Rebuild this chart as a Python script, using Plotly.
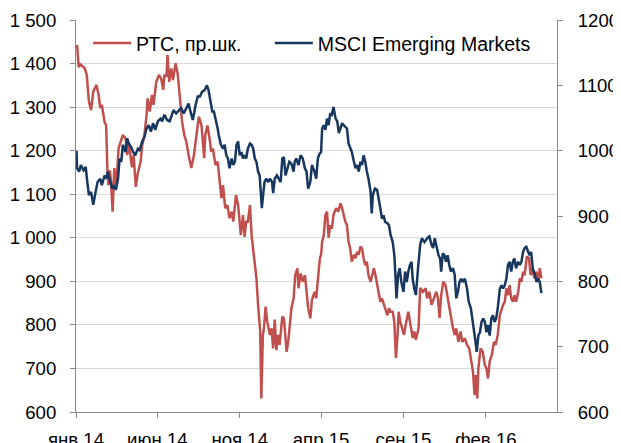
import plotly.graph_objects as go

# ---- RTS index (left axis) ----
rts_dates = [
    "2014-01-03", "2014-01-06", "2014-01-09", "2014-01-17", "2014-01-21", "2014-01-25", "2014-01-29",
    "2014-02-02", "2014-02-08", "2014-02-12", "2014-02-15", "2014-02-18", "2014-02-23", "2014-02-26", "2014-02-28",
    "2014-03-02", "2014-03-05", "2014-03-07", "2014-03-10", "2014-03-13", "2014-03-17", "2014-03-21", "2014-03-26", "2014-03-29",
    "2014-04-03", "2014-04-06", "2014-04-09", "2014-04-12", "2014-04-15", "2014-04-18", "2014-04-22", "2014-04-26",
    "2014-05-01", "2014-05-04", "2014-05-08", "2014-05-12", "2014-05-14", "2014-05-18", "2014-05-22", "2014-05-25", "2014-05-30",
    "2014-06-04", "2014-06-08", "2014-06-12", "2014-06-14", "2014-06-18", "2014-06-20", "2014-06-23", "2014-06-27", "2014-06-30",
    "2014-07-05", "2014-07-09", "2014-07-13", "2014-07-17", "2014-07-21", "2014-07-25", "2014-07-29",
    "2014-08-03", "2014-08-08", "2014-08-13", "2014-08-17", "2014-08-22", "2014-08-27", "2014-08-29",
    "2014-09-02", "2014-09-06", "2014-09-09", "2014-09-12", "2014-09-17", "2014-09-21", "2014-09-25", "2014-09-28",
    "2014-10-01", "2014-10-05", "2014-10-09", "2014-10-13", "2014-10-17", "2014-10-20", "2014-10-25", "2014-10-29",
    "2014-11-03", "2014-11-07", "2014-11-10", "2014-11-13", "2014-11-16", "2014-11-20", "2014-11-23", "2014-11-26", "2014-11-29",
    "2014-12-02", "2014-12-05", "2014-12-07", "2014-12-09", "2014-12-11", "2014-12-14", "2014-12-16", "2014-12-19", "2014-12-22", "2014-12-27", "2014-12-30",
    "2015-01-02", "2015-01-05", "2015-01-08", "2015-01-11", "2015-01-14", "2015-01-19", "2015-01-22", "2015-01-27", "2015-01-30",
    "2015-02-02", "2015-02-05", "2015-02-09", "2015-02-12", "2015-02-16", "2015-02-18", "2015-02-22", "2015-02-26",
    "2015-03-02", "2015-03-05", "2015-03-08", "2015-03-12", "2015-03-15", "2015-03-20", "2015-03-23", "2015-03-28", "2015-03-30",
    "2015-04-01", "2015-04-03", "2015-04-06", "2015-04-09", "2015-04-12", "2015-04-15", "2015-04-18", "2015-04-21", "2015-04-24", "2015-04-29",
    "2015-05-03", "2015-05-07", "2015-05-10", "2015-05-13", "2015-05-16", "2015-05-19", "2015-05-22", "2015-05-25", "2015-05-28",
    "2015-06-01", "2015-06-04", "2015-06-07", "2015-06-10", "2015-06-13", "2015-06-16", "2015-06-19", "2015-06-22", "2015-06-25", "2015-06-28",
    "2015-07-02", "2015-07-05", "2015-07-08", "2015-07-11", "2015-07-14", "2015-07-17", "2015-07-20", "2015-07-23", "2015-07-26", "2015-07-29",
    "2015-08-02", "2015-08-05", "2015-08-08", "2015-08-12", "2015-08-15", "2015-08-18", "2015-08-21", "2015-08-23", "2015-08-26", "2015-08-29",
    "2015-09-02", "2015-09-05", "2015-09-10", "2015-09-14", "2015-09-18", "2015-09-21", "2015-09-24", "2015-09-29",
    "2015-10-02", "2015-10-07", "2015-10-12", "2015-10-15", "2015-10-19", "2015-10-23", "2015-10-27",
    "2015-11-01", "2015-11-04", "2015-11-07", "2015-11-10", "2015-11-14", "2015-11-18", "2015-11-22", "2015-11-27",
    "2015-12-02", "2015-12-05", "2015-12-08", "2015-12-12", "2015-12-16", "2015-12-19", "2015-12-24", "2015-12-28",
    "2016-01-01", "2016-01-05", "2016-01-08", "2016-01-11", "2016-01-13", "2016-01-16", "2016-01-18", "2016-01-22", "2016-01-26", "2016-01-30",
    "2016-02-02", "2016-02-05", "2016-02-08", "2016-02-12", "2016-02-16", "2016-02-19", "2016-02-23", "2016-02-27",
    "2016-03-01", "2016-03-04", "2016-03-07", "2016-03-10", "2016-03-13", "2016-03-16", "2016-03-19", "2016-03-22", "2016-03-25", "2016-03-28",
    "2016-04-01", "2016-04-04", "2016-04-07", "2016-04-10", "2016-04-13", "2016-04-17", "2016-04-21", "2016-04-24", "2016-04-27",
    "2016-05-01", "2016-05-05", "2016-05-08", "2016-05-11", "2016-05-14",
]
rts_values = [
    1443, 1392, 1398, 1390, 1374, 1312, 1293,
    1335, 1351, 1328, 1298, 1305, 1266, 1258, 1167,
    1121, 1155, 1128, 1060, 1160, 1121, 1205, 1225, 1236,
    1228, 1190, 1218, 1190, 1162, 1190, 1117, 1150,
    1175, 1213, 1236, 1282, 1320, 1290, 1328, 1305, 1358,
    1374, 1366, 1340, 1374, 1370, 1420, 1358, 1389, 1362,
    1401, 1374, 1312, 1266, 1236, 1220, 1190,
    1160, 1190, 1236, 1278, 1258, 1183, 1236,
    1258, 1228, 1198, 1205, 1167, 1175, 1121, 1091,
    1121, 1068, 1075, 1045, 1060, 1037, 1098, 1075,
    1006, 1052, 1002, 1037, 1037, 1075, 1006, 976, 937,
    907, 846, 800, 785, 631, 777, 792, 842, 808, 777, 792,
    746, 812, 742, 777, 754, 819, 815, 738, 761,
    800, 839, 861, 914, 930, 884, 918, 899,
    914, 876, 839, 815, 857, 876, 861, 930, 954,
    961, 991, 1006, 1052, 1060, 1000, 1029, 1021, 1052, 1068,
    1060, 1079, 1068, 1052, 1037, 1029, 991, 976, 945,
    961, 953, 968, 961, 980, 976, 953, 937, 945, 914,
    899, 914, 930, 914, 891, 868, 853, 861, 846, 838,
    822, 838, 830, 830, 807, 724, 777, 830, 807, 792,
    777, 800, 830, 800, 770, 785, 766, 792,
    885, 876, 884, 861, 876, 846, 861,
    876, 861, 816, 868, 899, 891, 861, 823,
    792, 777, 792, 761, 785, 761, 769, 754,
    746, 716, 693, 639, 685, 631, 700, 746, 739, 708,
    700, 677, 716, 731, 761, 754, 777, 823,
    838, 846, 853, 884, 868, 891, 861, 853, 868, 853,
    876, 907, 899, 922, 914, 957, 953, 914, 930,
    907, 922, 899, 930, 907,
]

# ---- MSCI Emerging Markets (right axis) ----
msci_dates = [
    "2014-01-02", "2014-01-03", "2014-01-07", "2014-01-10", "2014-01-15", "2014-01-19", "2014-01-22", "2014-01-25", "2014-01-29",
    "2014-02-02", "2014-02-06", "2014-02-10", "2014-02-15", "2014-02-18", "2014-02-23", "2014-02-26",
    "2014-03-01", "2014-03-05", "2014-03-09", "2014-03-12", "2014-03-16", "2014-03-20", "2014-03-23", "2014-03-26", "2014-03-29",
    "2014-04-03", "2014-04-06", "2014-04-09", "2014-04-13", "2014-04-17", "2014-04-21", "2014-04-26", "2014-04-29",
    "2014-05-04", "2014-05-08", "2014-05-12", "2014-05-16", "2014-05-20", "2014-05-24", "2014-05-28",
    "2014-06-02", "2014-06-07", "2014-06-10", "2014-06-14", "2014-06-19", "2014-06-24", "2014-06-28",
    "2014-07-01", "2014-07-06", "2014-07-11", "2014-07-15", "2014-07-20", "2014-07-25", "2014-07-29",
    "2014-08-03", "2014-08-06", "2014-08-11", "2014-08-15", "2014-08-19", "2014-08-23", "2014-08-28",
    "2014-09-01", "2014-09-04", "2014-09-08", "2014-09-11", "2014-09-14", "2014-09-17", "2014-09-21", "2014-09-23", "2014-09-27",
    "2014-10-01", "2014-10-04", "2014-10-07", "2014-10-10", "2014-10-13", "2014-10-17", "2014-10-20", "2014-10-23", "2014-10-26", "2014-10-29",
    "2014-11-01", "2014-11-04", "2014-11-07", "2014-11-10", "2014-11-13", "2014-11-16", "2014-11-20", "2014-11-23", "2014-11-26", "2014-11-29",
    "2014-12-02", "2014-12-05", "2014-12-08", "2014-12-10", "2014-12-12", "2014-12-15", "2014-12-17", "2014-12-20", "2014-12-24", "2014-12-27", "2014-12-31",
    "2015-01-02", "2015-01-05", "2015-01-09", "2015-01-12", "2015-01-16", "2015-01-19", "2015-01-22", "2015-01-25", "2015-01-28",
    "2015-02-01", "2015-02-05", "2015-02-09", "2015-02-11", "2015-02-14", "2015-02-18", "2015-02-22", "2015-02-26",
    "2015-03-02", "2015-03-05", "2015-03-08", "2015-03-12", "2015-03-15", "2015-03-19", "2015-03-23", "2015-03-26", "2015-03-29",
    "2015-04-01", "2015-04-03", "2015-04-06", "2015-04-09", "2015-04-12", "2015-04-15", "2015-04-18", "2015-04-21", "2015-04-24", "2015-04-28",
    "2015-05-01", "2015-05-04", "2015-05-07", "2015-05-10", "2015-05-13", "2015-05-16", "2015-05-19", "2015-05-22", "2015-05-25", "2015-05-28",
    "2015-06-01", "2015-06-04", "2015-06-07", "2015-06-10", "2015-06-13", "2015-06-16", "2015-06-19", "2015-06-22", "2015-06-25", "2015-06-28",
    "2015-07-02", "2015-07-04", "2015-07-06", "2015-07-10", "2015-07-14", "2015-07-17", "2015-07-20", "2015-07-23", "2015-07-26", "2015-07-29",
    "2015-08-02", "2015-08-05", "2015-08-08", "2015-08-12", "2015-08-15", "2015-08-17", "2015-08-19", "2015-08-22", "2015-08-25", "2015-08-28",
    "2015-09-01", "2015-09-04", "2015-09-07", "2015-09-10", "2015-09-13", "2015-09-16", "2015-09-18", "2015-09-21", "2015-09-24", "2015-09-28",
    "2015-10-02", "2015-10-05", "2015-10-10", "2015-10-15", "2015-10-19", "2015-10-23", "2015-10-26", "2015-10-29",
    "2015-11-01", "2015-11-05", "2015-11-08", "2015-11-10", "2015-11-13", "2015-11-16", "2015-11-19", "2015-11-22", "2015-11-25", "2015-11-28",
    "2015-12-02", "2015-12-05", "2015-12-08", "2015-12-11", "2015-12-14", "2015-12-17", "2015-12-20", "2015-12-24", "2015-12-28", "2015-12-31",
    "2016-01-04", "2016-01-07", "2016-01-10", "2016-01-12", "2016-01-15", "2016-01-18", "2016-01-21", "2016-01-24", "2016-01-27", "2016-01-30",
    "2016-02-02", "2016-02-05", "2016-02-08", "2016-02-11", "2016-02-14", "2016-02-17", "2016-02-20", "2016-02-23", "2016-02-27",
    "2016-03-01", "2016-03-04", "2016-03-07", "2016-03-10", "2016-03-13", "2016-03-16", "2016-03-19", "2016-03-22", "2016-03-25", "2016-03-28",
    "2016-04-01", "2016-04-04", "2016-04-07", "2016-04-10", "2016-04-13", "2016-04-16", "2016-04-19", "2016-04-22", "2016-04-25", "2016-04-28",
    "2016-05-02", "2016-05-05", "2016-05-08", "2016-05-11", "2016-05-14",
]
msci_values = [
    1000, 973, 968, 978, 970, 975, 952, 932, 937,
    917, 935, 952, 957, 947, 962, 957,
    968, 957, 942, 947, 940, 957, 988, 983, 1009,
    998, 1019, 1011, 1006, 998, 993, 1003, 1001,
    1014, 1021, 1034, 1039, 1029, 1042, 1032,
    1045, 1049, 1045, 1055, 1047, 1045, 1055,
    1062, 1057, 1062, 1065, 1057, 1067, 1072,
    1055, 1047, 1070, 1083, 1083, 1090, 1093,
    1100, 1093, 1075, 1060, 1060, 1050, 1034, 1024, 1009,
    1003, 1009, 993, 988, 973, 988, 978, 983, 1009, 1014,
    993, 998, 988, 993, 988, 1003, 1011, 1009, 1003, 988,
    983, 968, 962, 942, 912, 937, 952, 957, 952, 957, 952,
    935, 957, 962, 957, 952, 988, 990, 962, 973,
    983, 980, 968, 983, 988, 978, 993, 988,
    973, 968, 942, 952, 978, 970, 957, 988, 995,
    998, 1034, 1039, 1032, 1049, 1039, 1057, 1055, 1067, 1049,
    1045, 1027, 1034, 1042, 1039, 1037, 1034, 1011, 1003, 998,
    983, 973, 978, 968, 983, 978, 993, 983, 968, 957,
    937, 904, 932, 942, 940, 922, 912, 896, 901, 891,
    889, 886, 871, 860, 840, 810, 774, 810, 820, 799,
    784, 815, 799, 815, 825, 830, 804, 789, 779, 820,
    856, 866, 860, 866, 869, 856, 851, 866,
    856, 840, 835, 815, 843, 840, 830, 840, 825, 815,
    820, 810, 774, 784, 799, 804, 799, 804, 789, 769,
    759, 738, 717, 712, 692, 717, 722, 738, 743, 738,
    722, 733, 717, 743, 748, 738, 743, 759, 789,
    794, 789, 794, 804, 825, 830, 815, 830, 835, 820,
    830, 825, 830, 845, 851, 853, 845, 840, 845, 820,
    810, 799, 804, 799, 782,
]

assert len(rts_dates) == len(rts_values)
assert len(msci_dates) == len(msci_values)

x_tick_dates = ["2014-01-01", "2014-06-01", "2014-11-01", "2015-04-01", "2015-09-01", "2016-02-01"]
x_tick_labels = ["янв.14", "июн.14", "ноя.14", "апр.15", "сен.15", "фев.16"]
left_ticks = [600, 700, 800, 900, 1000, 1100, 1200, 1300, 1400, 1500]
left_tick_labels = ["600", "700", "800", "900", "1 000", "1 100", "1 200", "1 300", "1 400", "1 500"]
right_ticks = [600, 700, 800, 900, 1000, 1100, 1200]

RED = "#C0504D"
NAVY = "#17375E"
AXIS = "#898989"
GRID = "#D9D9D9"
FONT = "Arial, Liberation Sans, sans-serif"
TICK_FONT = dict(family=FONT, size=18.6, color="#000000")
LEGEND_FONT = dict(size=19.5, family=FONT, color="#000000")

fig = go.Figure()
fig.add_trace(go.Scatter(x=rts_dates, y=rts_values, name="РТС, пр.шк.", mode="lines",
                         line=dict(color=RED, width=2.5), yaxis="y", legend="legend"))
fig.add_trace(go.Scatter(x=msci_dates, y=msci_values, name="MSCI Emerging Markets", mode="lines",
                         line=dict(color=NAVY, width=2.5), yaxis="y2", legend="legend2"))

# the page body adds an 8px offset; the figure is sized and margined to compensate
fig.update_layout(
    width=613, height=435,
    margin=dict(l=68, r=64, t=12, b=31, autoexpand=False),
    paper_bgcolor="white", plot_bgcolor="white",
    font=dict(family=FONT, size=18.6, color="#000000"),
    showlegend=True,
    legend=dict(orientation="h", x=0.025, y=0.99, xanchor="left", yanchor="top",
                bgcolor="rgba(0,0,0,0)", font=LEGEND_FONT, itemwidth=38),
    legend2=dict(orientation="h", x=0.403, y=0.99, xanchor="left", yanchor="top",
                 bgcolor="rgba(0,0,0,0)", font=LEGEND_FONT, itemwidth=38),
    xaxis=dict(type="date", range=["2014-01-01", "2016-06-12"],
               tickvals=x_tick_dates, ticktext=x_tick_labels, tickfont=TICK_FONT,
               showgrid=False, showline=True, linecolor=AXIS, linewidth=1,
               ticks="outside", ticklen=5, tickcolor=AXIS, ticklabelstandoff=6,
               zeroline=False, automargin=False),
    yaxis=dict(range=[600, 1500], tickvals=left_ticks, ticktext=left_tick_labels, tickfont=TICK_FONT,
               showgrid=True, gridcolor=GRID, gridwidth=1,
               showline=True, linecolor=AXIS, linewidth=1,
               ticks="outside", ticklen=5, tickcolor=AXIS, ticklabelstandoff=10,
               zeroline=False, automargin=False),
    yaxis2=dict(range=[600, 1200], tickvals=right_ticks, overlaying="y", side="right", tickfont=TICK_FONT,
                showgrid=False, showline=True, linecolor=AXIS, linewidth=1,
                ticks="outside", ticklen=5, tickcolor=AXIS, ticklabelstandoff=11,
                zeroline=False, automargin=False),
)

fig.write_html("out.html")
